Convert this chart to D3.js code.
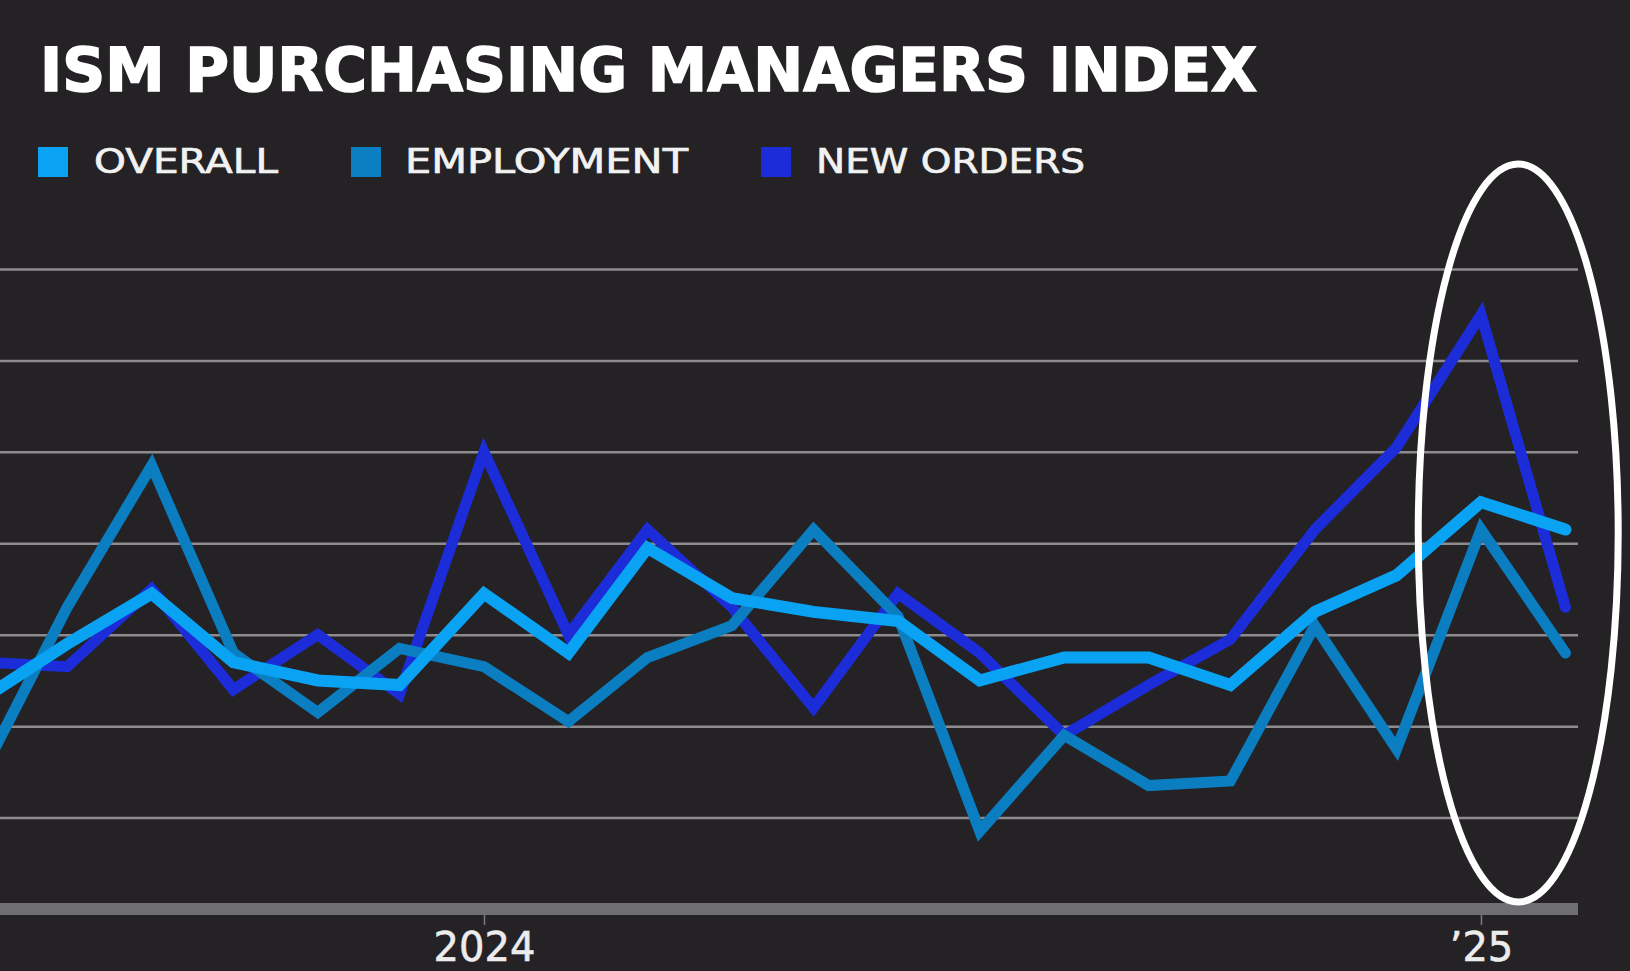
<!DOCTYPE html>
<html>
<head>
<meta charset="utf-8">
<script src="https://cdn.jsdelivr.net/npm/d3@7"></script>
<style>
  html, body { margin: 0; padding: 0; background: #242225; }
  svg { display: block; }
</style>
</head>
<body>
<svg id="chart"></svg>
<script>
const width = 1630;
const height = 971;

// monthly readings, Jul 2023 .. Feb 2025
const months = ["2023-07", "2023-08", "2023-09", "2023-10", "2023-11", "2023-12",
  "2024-01", "2024-02", "2024-03", "2024-04", "2024-05", "2024-06",
  "2024-07", "2024-08", "2024-09", "2024-10", "2024-11", "2024-12",
  "2025-01", "2025-02"];
const overall = [46.6, 47.8, 48.9, 47.4, 47.0, 46.9, 48.9, 47.6, 49.9, 48.8,
  48.5, 48.3, 47.0, 47.5, 47.5, 46.9, 48.5, 49.3, 50.9, 50.3];
const employment = [45.0, 48.6, 51.7, 47.6, 46.3, 47.7, 47.3, 46.1, 47.5, 48.2,
  50.3, 48.4, 43.7, 45.8, 44.7, 44.8, 48.2, 45.5, 50.3, 47.6];
const newOrders = [47.4, 47.3, 49.0, 46.8, 48.0, 46.7, 52.0, 48.0, 50.3, 48.6,
  46.4, 48.9, 47.6, 45.8, 46.9, 47.9, 50.3, 52.1, 55.0, 48.6];

const seriesNames = ["OVERALL", "EMPLOYMENT", "NEW ORDERS"];
const gridValues = [44, 46, 48, 50, 52, 54, 56];
const xTickDates = ["2024-01", "2025-01"];
const xTickLabels = ["2024", "\u201925"];

const colors = {
  "OVERALL": "#0aa3f4",
  "EMPLOYMENT": "#0a7ec0",
  "NEW ORDERS": "#1b2cd8"
};

const parseMonth = d3.timeParse("%Y-%m");
const dates = months.map(parseMonth);

const x = d3.scaleTime()
  .domain([parseMonth("2024-01"), parseMonth("2025-01")])
  .range([484, 1481]);

const y = d3.scaleLinear()
  .domain([42, 56])
  .range([909, 269]);

const plotRight = 1578;

const svg = d3.select("#chart")
  .attr("width", width)
  .attr("height", height);

svg.append("rect")
  .attr("width", width)
  .attr("height", height)
  .attr("fill", "#242225");

// title
svg.append("text")
  .attr("x", 40)
  .attr("y", 91)
  .attr("textLength", 1217)
  .attr("lengthAdjust", "spacingAndGlyphs")
  .attr("fill", "#ffffff")
  .attr("stroke", "#ffffff")
  .attr("stroke-width", 1.6)
  .style("font-family", "'DejaVu Sans', sans-serif")
  .style("font-weight", "bold")
  .style("font-size", "61px")
  .text("ISM PURCHASING MANAGERS INDEX");

// legend
const legendPos = [
  { sq: 38, tx: 94, len: 184 },
  { sq: 351, tx: 405, len: 283 },
  { sq: 761, tx: 816, len: 269 }
];
const legend = svg.append("g");
seriesNames.forEach((name, i) => {
  legend.append("rect")
    .attr("x", legendPos[i].sq)
    .attr("y", 147)
    .attr("width", 30)
    .attr("height", 30)
    .attr("fill", colors[name]);
  legend.append("text")
    .attr("x", legendPos[i].tx)
    .attr("y", 173)
    .attr("textLength", legendPos[i].len)
    .attr("lengthAdjust", "spacingAndGlyphs")
    .attr("fill", "#f2f2f2")
    .attr("stroke", "#f2f2f2")
    .attr("stroke-width", 0.7)
    .style("font-family", "'DejaVu Sans', sans-serif")
    .style("font-size", "34px")
    .text(name);
});

// gridlines
const grid = svg.append("g")
  .call(d3.axisRight(y)
    .tickValues(gridValues)
    .tickSize(plotRight)
    .tickFormat(""));
grid.select(".domain").remove();
grid.selectAll(".tick line")
  .attr("stroke", "#8d8b8e")
  .attr("stroke-width", 2.5);

// x axis
const xAxis = svg.append("g")
  .attr("transform", `translate(0,${y(42) + 5})`)
  .call(d3.axisBottom(x)
    .tickValues(xTickDates.map(parseMonth))
    .tickSize(11)
    .tickPadding(8)
    .tickFormat((d, i) => xTickLabels[i]));
xAxis.select(".domain").remove();
xAxis.selectAll(".tick line")
  .attr("stroke", "#7a797b")
  .attr("stroke-width", 1.5);
xAxis.selectAll(".tick text")
  .attr("fill", "#ececec")
  .attr("stroke", "#ececec")
  .attr("stroke-width", 0.6)
  .style("font-family", "'DejaVu Sans', sans-serif")
  .style("font-size", "40px");

// baseline
svg.append("line")
  .attr("x1", 0)
  .attr("x2", plotRight)
  .attr("y1", y(42))
  .attr("y2", y(42))
  .attr("stroke", "#6f6e71")
  .attr("stroke-width", 12);

// series lines
const line = d3.line()
  .x((d, i) => x(dates[i]))
  .y(d => y(d));

const seriesData = [
  { name: "NEW ORDERS", values: newOrders, w: 11 },
  { name: "EMPLOYMENT", values: employment, w: 11 },
  { name: "OVERALL", values: overall, w: 12 }
];

svg.append("g")
  .selectAll("path")
  .data(seriesData)
  .enter()
  .append("path")
  .attr("d", d => line(d.values))
  .attr("fill", "none")
  .attr("stroke", d => colors[d.name])
  .attr("stroke-width", d => d.w)
  .attr("stroke-linejoin", "miter")
  .attr("stroke-miterlimit", 6)
  .attr("stroke-linecap", "round");

// highlight ring around the latest months
const lastDates = dates.slice(-2);
const cx = (x(lastDates[0]) + x(lastDates[1])) / 2 - 5;
svg.append("ellipse")
  .attr("cx", cx)
  .attr("cy", 533)
  .attr("rx", 100)
  .attr("ry", 369)
  .attr("fill", "none")
  .attr("stroke", "#ffffff")
  .attr("stroke-width", 7);
</script>
</body>
</html>
